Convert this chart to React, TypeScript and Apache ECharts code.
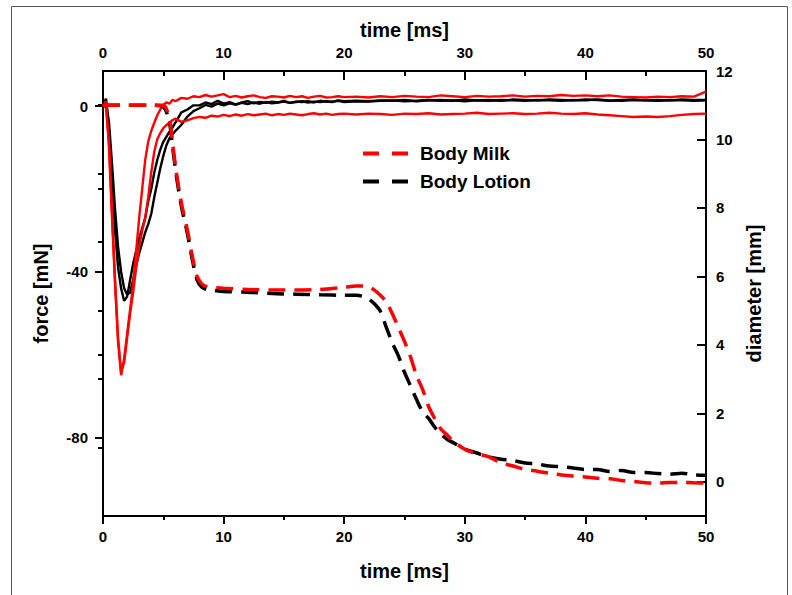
import { useEffect, useRef } from "react";
import * as echarts from "echarts";

// ---------- data ----------
const timeTicks = [0, 10, 20, 30, 40, 50];
const forceTicks = [0, -40, -80];
const forceMinorTicks = [-20, -60];
const diameterTicks = [0, 2, 4, 6, 8, 10, 12];
const diameterMinorTicks = [1, 3, 5, 7, 9, 11];

const forceTime = [
  0, 0.25, 0.5, 0.75, 1, 1.25, 1.5, 1.75, 2, 2.25, 2.5, 2.75, 3, 3.25, 3.5, 3.75, 4, 4.25, 4.5, 4.75, 5, 5.25, 5.5, 5.75, 6,
  6.5, 7, 7.5, 8, 8.5, 9, 9.5, 10, 10.5, 11, 11.5, 12, 12.5, 13, 13.5, 14, 14.5, 15, 15.5, 16, 16.5, 17, 17.5, 18, 18.5, 19, 19.5, 20,
  21, 22, 23, 24, 25, 26, 27, 28, 29, 30, 31, 32, 33, 34, 35, 36, 37, 38, 39, 40, 41, 42, 43, 44, 45, 46, 47, 48, 49, 50,
];

const milkForce1 = [
  0, 1.2, -10, -27, -43, -57, -65, -61, -55, -49, -43, -35, -27, -20, -13, -8.5, -6, -4, -2.2, -0.8, 0.3, 0.9, 0.6, 1.5, 1.2,
  2.0, 1.8, 2.4, 2.2, 2.7, 2.3, 2.6, 2.9, 2.2, 2.5, 2.1, 2.4, 2.6, 2.2, 2.0, 2.4, 2.3, 2.1, 2.5, 2.2, 2.4, 2.0, 2.3, 2.5, 2.1, 2.2, 2.4, 2.2,
  2.3, 2.1, 2.4, 2.2, 2.5, 2.3, 2.2, 2.6, 2.4, 2.2, 2.5, 2.3, 2.4, 2.6, 2.3, 2.5, 2.4, 2.7, 2.5, 2.6, 2.4, 2.6, 2.3, 2.2, 2.1, 2.3, 2.2, 2.4, 2.3, 3.5,
];

const milkForce2 = [
  0.5, -0.5, -9, -26, -42, -56, -64, -62, -56, -50, -45, -39, -34, -30, -27, -22, -16, -11, -8, -6.5, -5.3, -4.6, -4.0, -3.4, -3.0,
  -3.8, -3.4, -2.9, -2.6, -2.8, -2.3, -2.5, -2.1, -2.4, -2.0, -2.3, -1.9, -2.2, -2.0, -1.8, -2.2, -1.9, -2.1, -1.8, -2.0, -2.2, -1.9, -1.7, -2.0, -1.8, -2.1, -1.9, -1.8,
  -2.0, -1.8, -1.9, -2.1, -1.8, -1.9, -1.7, -2.0, -1.9, -1.8, -1.6, -1.9, -1.8, -1.7, -1.9, -1.8, -1.6, -1.8, -1.9, -1.7, -2.0, -2.2, -2.4, -2.6, -2.5, -2.6, -2.4, -2.1, -1.9, -1.8,
];

const lotionForce1 = [
  0.5, 1.8, -6, -18, -30, -39, -44, -47, -46, -42, -38, -35, -32, -29.5, -27, -23, -20, -16, -13, -10.5, -8.6, -7.4, -6.2, -5.2, -4.0,
  -1.5, -0.8, 0.2, 0.2, 0.9, 0.5, 1.3, 0.6, 1.0, 0.4, 0.9, 1.2, 0.7, 1.0, 0.8, 1.1, 0.9, 1.3, 0.8, 1.1, 1.0, 1.2, 0.9, 1.3, 1.1, 1.0, 1.4, 1.2,
  1.3, 1.2, 1.4, 1.3, 1.5, 1.2, 1.4, 1.5, 1.3, 1.6, 1.4, 1.5, 1.3, 1.6, 1.5, 1.4, 1.6, 1.5, 1.4, 1.6, 1.5, 1.3, 1.5, 1.6, 1.4, 1.5, 1.4, 1.6, 1.5, 1.5,
];

const lotionForce2 = [
  0, 1.0, -4, -14, -25, -34, -40, -44, -45.5, -45, -42, -38.5, -35.5, -33, -30.5, -28.5, -26, -22, -18.5, -15, -12, -9.5, -7.8, -6.8, -6.0,
  -4.5, -2.5, -1.2, -0.5, 0.3, -0.1, 0.6, 0.2, 0.7, 0.4, 0.8, 0.5, 0.9, 0.6, 1.0, 0.7, 0.9, 1.1, 0.8, 1.0, 1.2, 0.9, 1.1, 1.0, 1.2, 1.1, 1.3, 1.0,
  1.2, 1.1, 1.3, 1.4, 1.2, 1.3, 1.5, 1.3, 1.4, 1.2, 1.4, 1.3, 1.5, 1.4, 1.3, 1.5, 1.4, 1.3, 1.5, 1.4, 1.6, 1.4, 1.3, 1.5, 1.4, 1.3, 1.5, 1.4, 1.3, 1.4,
];

const diameterTime = [
  0, 2, 4, 5, 5.5, 5.8, 6.1, 6.5, 7.0, 7.4, 7.8, 8.2, 8.6, 9, 10, 12, 14, 16, 18, 20,
  21, 21.5, 22, 22.5, 23, 23.5, 24, 24.5, 25, 25.5, 26, 26.5, 27, 27.5, 28, 28.5, 29,
  30, 31, 32, 33, 34, 35, 36, 37, 38, 39, 40, 41, 42, 43, 44, 45, 46, 47, 48, 49, 50,
];

const milkDiameter = [
  11.0, 11.0, 11.0, 11.0, 10.6, 9.8, 9.0, 8.15, 7.35, 6.6, 6.0, 5.78, 5.7, 5.68, 5.65, 5.62, 5.6, 5.6, 5.62, 5.68,
  5.72, 5.72, 5.7, 5.6, 5.45, 5.25, 4.9, 4.5, 4.1, 3.65, 3.1, 2.7, 2.2, 1.85, 1.55, 1.38, 1.2,
  0.95, 0.82, 0.73, 0.55, 0.46, 0.36, 0.31, 0.25, 0.2, 0.17, 0.14, 0.1, 0.09, 0.04, 0.01, -0.03, -0.04, -0.02, -0.02, -0.03, -0.04,
];

const lotionDiameter = [
  11.0, 11.0, 11.0, 10.95, 10.5, 9.7, 8.9, 8.05, 7.25, 6.5, 5.9, 5.68, 5.62, 5.6, 5.56, 5.54, 5.5, 5.48, 5.46, 5.45,
  5.45, 5.42, 5.35, 5.2, 4.98, 4.5, 4.05, 3.67, 3.2, 2.8, 2.4, 2.05, 1.85, 1.6, 1.4, 1.25, 1.15,
  0.96, 0.84, 0.72, 0.66, 0.62, 0.55, 0.52, 0.46, 0.44, 0.4, 0.36, 0.36, 0.3, 0.33, 0.27, 0.27, 0.24, 0.22, 0.25, 0.2, 0.19,
];

const zip = (xs: number[], ys: number[]) => xs.map((x, i) => [x, ys[i]]);

export default function App() {
  const ref = useRef<HTMLDivElement>(null);

  useEffect(() => {
    if (!ref.current) return;
    const chart = echarts.init(ref.current, null, { renderer: "svg" });
    const font = "'Liberation Sans', Arial, sans-serif";
    const black = "#000";
    const axisLine = { show: true, onZero: false, lineStyle: { color: black, width: 2 } };
    const tickLine = { color: black, width: 2 };
    const label = { color: black, fontFamily: font, fontWeight: "bold" as const, fontSize: 15 };
    const nameStyle = { color: black, fontFamily: font, fontWeight: "bold" as const, fontSize: 20 };
    const noSplit = { show: false };

    const forceLine = (name: string, data: number[], color: string) => ({
      name,
      type: "line",
      xAxisIndex: 0,
      yAxisIndex: 0,
      data: zip(forceTime, data),
      showSymbol: false,
      symbol: "none",
      lineStyle: { color, width: 2.4 },
      itemStyle: { color },
    });
    const diamLine = (name: string, data: number[], color: string) => ({
      name,
      type: "line",
      xAxisIndex: 0,
      yAxisIndex: 1,
      data: zip(diameterTime, data),
      showSymbol: false,
      symbol: "none",
      smooth: 0.3,
      lineStyle: { color, width: 3.5, type: [17, 9] },
      itemStyle: { color },
    });

    chart.setOption({
      animation: false,
      backgroundColor: "#fff",
      grid: { left: 103, right: 86, top: 71, bottom: 79, containLabel: false },
      legend: {
        data: ["Body Milk", "Body Lotion"],
        orient: "vertical",
        left: 363,
        top: 144,
        padding: 0,
        icon: "path://M0 0H16V4H0ZM29 0H45V4H29Z",
        itemWidth: 45,
        itemHeight: 4,
        itemGap: 9,
        textStyle: { color: black, fontFamily: font, fontWeight: "bold", fontSize: 19, padding: [0, 0, 0, 7] },
      },
      xAxis: [
        {
          type: "value",
          position: "bottom",
          min: timeTicks[0],
          max: timeTicks[timeTicks.length - 1],
          interval: 10,
          axisLine,
          axisTick: { length: 8, lineStyle: tickLine },
          minorTick: { show: true, splitNumber: 2, length: 4, lineStyle: tickLine },
          axisLabel: { ...label, margin: 13 },
          splitLine: noSplit,
          minorSplitLine: noSplit,
          name: "time [ms]",
          nameLocation: "middle",
          nameGap: 45,
          nameTextStyle: nameStyle,
        },
        {
          type: "value",
          position: "top",
          min: timeTicks[0],
          max: timeTicks[timeTicks.length - 1],
          interval: 10,
          axisLine,
          axisTick: { inside: true, length: 9, lineStyle: tickLine },
          minorTick: { show: true, splitNumber: 2, length: 5, lineStyle: tickLine },
          axisLabel: { ...label, margin: 11 },
          splitLine: noSplit,
          minorSplitLine: noSplit,
          name: "time [ms]",
          nameLocation: "middle",
          nameGap: 30,
          nameTextStyle: nameStyle,
        },
      ],
      yAxis: [
        {
          type: "value",
          position: "left",
          min: -99,
          max: 8.5,
          axisLine,
          axisTick: { length: 8, lineStyle: tickLine, customValues: forceTicks },
          axisLabel: { ...label, margin: 15, customValues: forceTicks },
          splitLine: noSplit,
          name: "force [mN]",
          nameLocation: "middle",
          nameGap: 52,
          nameRotate: 90,
          nameTextStyle: nameStyle,
        },
        {
          type: "value",
          position: "right",
          min: -1,
          max: 12,
          axisLine,
          axisTick: { inside: true, length: 9, lineStyle: tickLine, customValues: diameterTicks },
          axisLabel: { ...label, margin: 10, customValues: diameterTicks },
          splitLine: noSplit,
          name: "diameter [mm]",
          nameLocation: "middle",
          nameGap: 38,
          nameRotate: 90,
          nameTextStyle: nameStyle,
        },
        {
          type: "value",
          position: "left",
          min: -99,
          max: 8.5,
          axisLine: { show: false },
          axisTick: { length: 5, lineStyle: tickLine, customValues: forceMinorTicks },
          axisLabel: { show: false },
          splitLine: noSplit,
        },
        {
          type: "value",
          position: "right",
          min: -1,
          max: 12,
          axisLine: { show: false },
          axisTick: { inside: true, length: 5, lineStyle: tickLine, customValues: diameterMinorTicks },
          axisLabel: { show: false },
          splitLine: noSplit,
        },
      ],
      graphic: [
        {
          type: "rect",
          silent: true,
          z: -10,
          shape: { x: 11.5, y: 6.5, width: 776, height: 640 },
          style: { fill: "none", stroke: "#555", lineWidth: 1 },
        },
      ],
      series: [
        forceLine("Body Lotion force 1", lotionForce1, black),
        forceLine("Body Lotion force 2", lotionForce2, black),
        forceLine("Body Milk force 1", milkForce1, "#ff0000"),
        forceLine("Body Milk force 2", milkForce2, "#ff0000"),
        diamLine("Body Lotion", lotionDiameter, black),
        diamLine("Body Milk", milkDiameter, "#ff0000"),
      ],
    });

    return () => chart.dispose();
  }, []);

  return (
    <div
      ref={ref}
      style={{ position: "fixed", left: 0, top: 0, width: 792, height: 595, background: "#fff" }}
    />
  );
}
